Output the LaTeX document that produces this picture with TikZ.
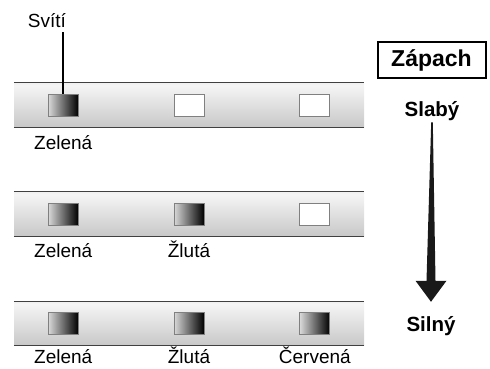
\documentclass[tikz,border=0pt]{standalone}
\usepackage{fontspec}
\setmainfont{Liberation Sans}
\usetikzlibrary{positioning,calc}
\pgfdeclareverticalshading{barshade}{100bp}{color(0bp)=(gray!62); color(72bp)=(gray!8); color(100bp)=(gray!38)}

\begin{document}
\begin{tikzpicture}
  [x=1pt,y=-1pt,
   bar/.style={minimum width=350pt,minimum height=44pt,inner sep=0pt,shading=barshade},
   barLine/.style={draw=black!75,line width=1.3pt},
   ledOn/.style={draw=gray,thick,minimum width=30pt,minimum height=22pt,inner sep=0pt,left color=gray!30,right color=black},
   ledOff/.style={draw=gray,thick,minimum width=30pt,minimum height=22pt,inner sep=0pt,fill=white},
   lbl/.style={font=\fontsize{19}{23}\selectfont,inner sep=0pt,text height=14pt,text depth=1pt},
   bold/.style={font=\fontsize{20.5}{24}\selectfont\bfseries,inner sep=0pt},
   node distance=95pt]

  \useasboundingbox (0,0) rectangle (490,368);

  % row 1
  \node[bar] (bar1) at (189,105) {};
  \draw[barLine] (bar1.north west) -- (bar1.north east);
  \draw[barLine] (bar1.south west) -- (bar1.south east);
  \node[ledOff] (y1) at (bar1.center) {};
  \node[ledOn] (g1) [left=of y1] {};
  \node[ledOff] (r1) [right=of y1] {};
  \node[lbl] (g1l) [below=19pt of g1] {Zelená};

  % row 2
  \node[bar] (bar2) at (189,214) {};
  \draw[barLine] (bar2.north west) -- (bar2.north east);
  \draw[barLine] (bar2.south west) -- (bar2.south east);
  \node[ledOn] (y2) at (bar2.center) {};
  \node[ledOn] (g2) [left=of y2] {};
  \node[ledOff] (r2) [right=of y2] {};
  \node[lbl] (g2l) [below=18pt of g2] {Zelená};
  \node[lbl] (y2l) [below=18pt of y2] {Žlutá};

  % row 3
  \node[bar] (bar3) at (189,323.5) {};
  \draw[barLine] (bar3.north west) -- (bar3.north east);
  \draw[barLine] (bar3.south west) -- (bar3.south east);
  \node[ledOn] (y3) at (bar3.center) {};
  \node[ledOn] (g3) [left=of y3] {};
  \node[ledOn] (r3) [right=of y3] {};
  \node[lbl] (g3l) [below=14pt of g3] {Zelená};
  \node[lbl] (y3l) [below=14pt of y3] {Žlutá};
  \node[lbl] (r3l) [below=14pt of r3] {Červená};

  % pointer
  \node[lbl,anchor=base] (sviti) at (47,27) {Svítí};
  \draw[line width=1.5pt] (g1.north) -- ([yshift=-4pt]g1.north |- sviti.south);

  % smell scale
  \node[draw,line width=2pt,minimum width=108pt,minimum height=36pt,
        font=\fontsize{23}{26}\selectfont\bfseries] (zapach) at (431.5,60) {Zápach};
  \node[bold,anchor=base] (slaby) at (432,116) {Slabý};
  \node[bold,anchor=base] (silny) at (431,331) {Silný};
  \fill[black!90] ($(slaby.south)+(-0.8,2)$) -- ($(slaby.south)+(0.8,2)$)
    -- ($(silny.north)+(4.5,-35)$) -- ($(silny.north)+(15.5,-35)$)
    -- ($(silny.north)+(0,-14)$) -- ($(silny.north)+(-15.5,-35)$)
    -- ($(silny.north)+(-4.5,-35)$) -- cycle;
\end{tikzpicture}
\end{document}
